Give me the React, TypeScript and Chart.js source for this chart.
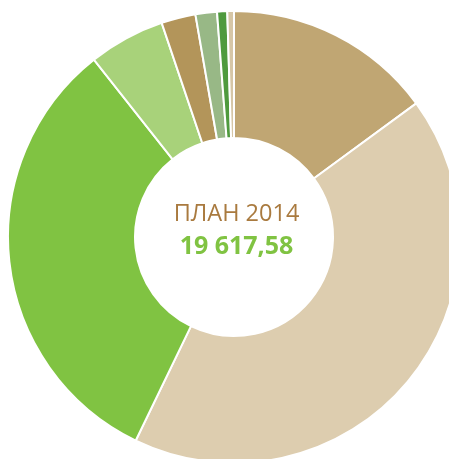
import React, { useEffect, useRef } from "react";
import { Chart, registerables } from "chart.js";

Chart.register(...registerables);

const categories = ["Статья 1", "Статья 2", "Статья 3", "Статья 4", "Статья 5", "Статья 6", "Статья 7", "Статья 8"];
const values = [2929, 8284, 6317, 1071, 481, 301, 142, 93];
const colors = ["#c0a673", "#ddcdaf", "#80c342", "#a8d27a", "#b3955a", "#98b886", "#4f9a3e", "#d6c6a6"];
const titleText = "ПЛАН 2014";
const totalText = "19 617,58";

const centerText = {
  id: "centerText",
  afterDraw(chart: any) {
    const arc = chart.getDatasetMeta(0).data[0];
    if (!arc) return;
    const { x, y } = arc;
    const ctx = chart.ctx;
    ctx.save();
    ctx.textAlign = "center";
    ctx.textBaseline = "alphabetic";
    ctx.fillStyle = "#a97a3f";
    ctx.font = "23.5px 'Open Sans'";
    ctx.fillText(titleText, x + 2.5, y - 16);
    ctx.fillStyle = "#80c342";
    ctx.font = "bold 25px 'Open Sans'";
    ctx.fillText(totalText, x + 2.5, y + 17);
    ctx.restore();
  },
};

export default function App() {
  const ref = useRef<HTMLCanvasElement>(null);
  useEffect(() => {
    if (!ref.current) return;
    const chart = new Chart(ref.current, {
      type: "doughnut",
      data: {
        labels: categories,
        datasets: [
          {
            data: values,
            backgroundColor: colors,
            borderColor: "#ffffff",
            borderWidth: 2,
          },
        ],
      },
      options: {
        responsive: false,
        animation: false,
        cutout: "43.8%",
        layout: { padding: 0 },
        plugins: { legend: { display: false }, tooltip: { enabled: false } },
      },
      plugins: [centerText],
    });
    return () => chart.destroy();
  }, []);
  return (
    <div style={{ position: "fixed", left: 0, top: 0, width: 449, height: 459, overflow: "hidden", background: "#fff" }}>
      <canvas ref={ref} width={454} height={454} style={{ position: "absolute", left: 7, top: 10, width: 454, height: 454 }} />
    </div>
  );
}
